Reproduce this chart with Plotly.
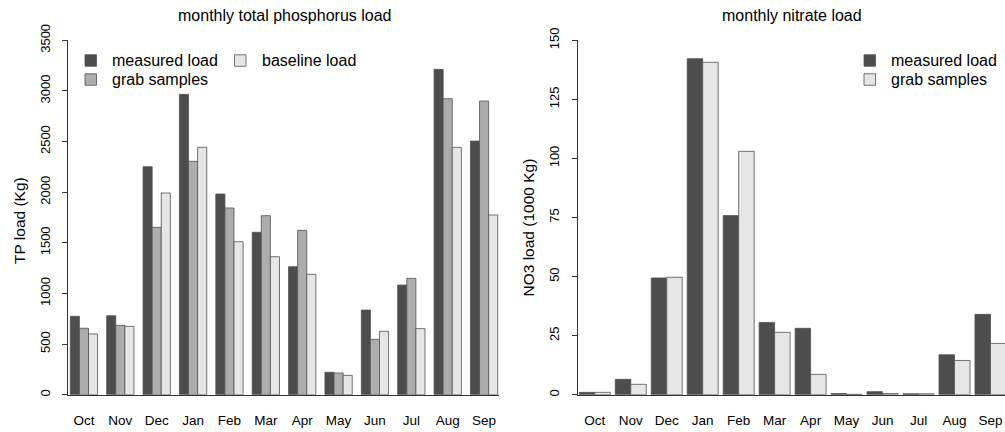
import plotly.graph_objects as go

months = ["Oct", "Nov", "Dec", "Jan", "Feb", "Mar", "Apr", "May", "Jun", "Jul", "Aug", "Sep"]

# Total phosphorus (Kg)
tp_measured = [774, 780, 2252, 2966, 1982, 1604, 1264, 221, 836, 1083, 3213, 2505]
tp_grab = [656, 685, 1653, 2305, 1844, 1768, 1623, 214, 547, 1149, 2923, 2900]
tp_baseline = [600, 675, 1992, 2443, 1511, 1363, 1189, 191, 626, 652, 2443, 1775]

# Nitrate (1000 Kg)
no3_measured = [1.0, 6.5, 49.4, 142.2, 75.8, 30.6, 28.1, 0.5, 1.3, 0.4, 16.9, 34.0]
no3_grab = [1.0, 4.4, 49.7, 140.7, 103.0, 26.4, 8.6, 0.15, 0.5, 0.4, 14.5, 21.7]

tp_ticks = [0, 500, 1000, 1500, 2000, 2500, 3000, 3500]
no3_ticks = [0, 25, 50, 75, 100, 125, 150]

C_MEAS = "#4d4d4d"
C_GRAB = "#adadad"
C_BASE = "#e6e6e6"
EDGE = "#505050"
FONT = "Liberation Sans, Arial, sans-serif"
W, H = 1005, 432

fig = go.Figure()

bw_l = 0.25
for vals, col, off in [(tp_measured, C_MEAS, -0.375), (tp_grab, C_GRAB, -0.125), (tp_baseline, C_BASE, 0.125)]:
    fig.add_trace(go.Bar(x=months, y=vals, width=bw_l, offset=off, marker=dict(color=col, line=dict(color=EDGE, width=0.8)),
                         showlegend=False, xaxis="x", yaxis="y", hoverinfo="x+y"))

bw_r = 0.431
for vals, col, off in [(no3_measured, C_MEAS, -bw_r), (no3_grab, C_BASE, 0.0)]:
    fig.add_trace(go.Bar(x=months, y=vals, width=bw_r, offset=off, marker=dict(color=col, line=dict(color=EDGE, width=0.8)),
                         showlegend=False, xaxis="x2", yaxis="y2", hoverinfo="x+y"))

y_bot = 1 - 394.7 / H
y_top = 1 - 40.3 / H

axis_common = dict(showgrid=False, zeroline=False, automargin=False, color="#000")

fig.update_layout(
    width=W, height=H,
    margin=dict(l=0, r=0, t=0, b=0),
    paper_bgcolor="white", plot_bgcolor="white",
    barmode="overlay",
    font=dict(family=FONT, color="#000"),
    xaxis=dict(domain=[68 / W, 499 / W], type="category", categoryorder="array", categoryarray=months,
               range=[-0.4385, 11.41], showline=True, linecolor="#333", linewidth=1, ticks="",
               tickfont=dict(size=13.5, family=FONT), ticklabelstandoff=13, anchor="y", **axis_common),
    yaxis=dict(domain=[y_bot, y_top], range=[0, 3500], tickvals=tp_ticks, ticktext=[str(v) for v in tp_ticks],
               tickangle=-90, showline=True, linecolor="#333", linewidth=1, ticks="outside", ticklen=5,
               tickcolor="#333", tickfont=dict(size=13, family=FONT), ticklabelstandoff=7, anchor="x", **axis_common),
    xaxis2=dict(domain=[577.5 / W, 1.0], type="category", categoryorder="array", categoryarray=months,
                range=[-0.481, 11.404], showline=True, linecolor="#333", linewidth=1, ticks="",
                tickfont=dict(size=13.5, family=FONT), ticklabelstandoff=13, anchor="y2", **axis_common),
    yaxis2=dict(domain=[y_bot, y_top], range=[0, 150], tickvals=no3_ticks, ticktext=[str(v) for v in no3_ticks],
                tickangle=-90, showline=True, linecolor="#333", linewidth=1, ticks="outside", ticklen=5,
                tickcolor="#333", tickfont=dict(size=13, family=FONT), ticklabelstandoff=7, anchor="x2", **axis_common),
)

ann = []
shapes = []
# titles
ann.append(dict(text="monthly total phosphorus load", x=284 / W, y=1 - 16 / H, xref="paper", yref="paper",
                showarrow=False, font=dict(size=16, family=FONT), xanchor="center", yanchor="middle"))
ann.append(dict(text="monthly nitrate load", x=792 / W, y=1 - 16 / H, xref="paper", yref="paper",
                showarrow=False, font=dict(size=16, family=FONT), xanchor="center", yanchor="middle"))
# axis titles
ann.append(dict(text="TP load (Kg)", x=19 / W, y=1 - 221 / H, xref="paper", yref="paper", textangle=-90,
                showarrow=False, font=dict(size=15.5, family=FONT), xanchor="center", yanchor="middle"))
ann.append(dict(text="NO3 load (1000 Kg)", x=527.5 / W, y=1 - 228 / H, xref="paper", yref="paper", textangle=-90,
                showarrow=False, font=dict(size=15.5, family=FONT), xanchor="center", yanchor="middle"))

# legends (manual, R style)
def legend_item(x0, yc, label, col):
    s = 11.5
    shapes.append(dict(type="rect", xref="paper", yref="paper", x0=x0 / W, x1=(x0 + s) / W,
                       y0=1 - (yc + s / 2) / H, y1=1 - (yc - s / 2) / H,
                       fillcolor=col, line=dict(color=EDGE, width=0.8)))
    ann.append(dict(text=label, x=(x0 + 25) / W, y=1 - yc / H, xref="paper", yref="paper", showarrow=False,
                    xanchor="left", yanchor="middle", font=dict(size=16, family=FONT)))

legend_item(85, 60.5, "measured load", C_MEAS)
legend_item(85, 79.5, "grab samples", C_GRAB)
legend_item(234.5, 60.5, "baseline load", C_BASE)
legend_item(864, 60.5, "measured load", C_MEAS)
legend_item(864, 79.5, "grab samples", C_BASE)

fig.update_layout(annotations=ann, shapes=shapes)
fig.write_html("out.html")
